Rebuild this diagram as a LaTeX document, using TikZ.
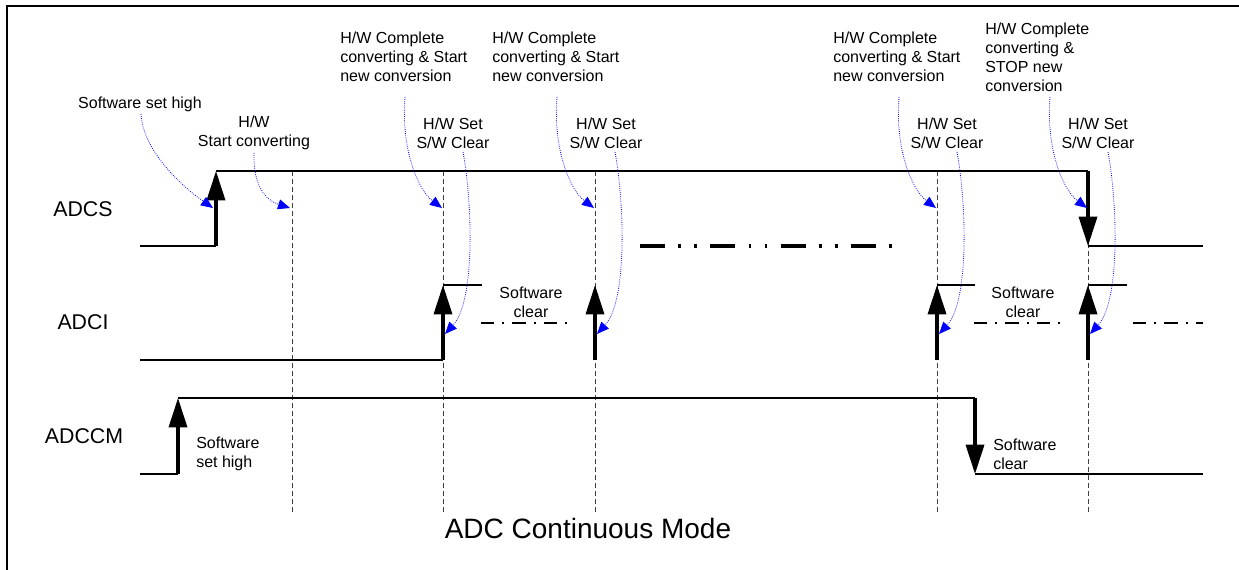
\documentclass[tikz,border=0pt]{standalone}
\usepackage{fontspec}
\setmainfont{Liberation Sans}
\usetikzlibrary{arrows.meta}

\begin{document}
\begin{tikzpicture}[
      x=0.75pt, y=-0.75pt,
      font=\fontsize{12}{14.25}\selectfont,
      wave/.style={line width=1.4pt},
      jump/.style={line width=2.6pt, -{Triangle[length=22pt, width=13.5pt]}},
      vguide/.style={black!75, line width=0.7pt, dash pattern=on 3.5pt off 2.5pt},
      hint/.style={blue, line width=0.6pt, densely dotted,
                   -{Triangle[length=9pt, width=7.5pt]}},
      gapbig/.style={line width=2.4pt, dash pattern=on 18.75pt off 10pt on 2pt off 10pt on 2pt off 10pt},
      gapsmall/.style={line width=1.4pt, dash pattern=on 10pt off 6pt on 1.5pt off 6pt},
      lbl/.style={inner sep=0pt, align=center},
      sig/.style={inner sep=0pt, font=\fontsize{16}{19}\selectfont},
    ]
    \useasboundingbox (0,0) rectangle (1239,570);
    % frame
    \draw[line width=2pt] (7,570) -- (7,6) -- (1239,6);

    % signal names
    \node[sig] (adcs)  at (83,209) {ADCS};
    \node[sig] (adci)  at (83,322) {ADCI};
    \node[sig] (adccm) at (84,436) {ADCCM};

    % time marks
    \foreach \t in {292,443,595,937,1088}
      \draw[vguide] (\t,171) -- (\t,512);

    % ADCS
    \draw[wave] (140,246) -- (216,246);
    \draw[jump] (216,246) -- (216,171);
    \draw[wave] (216,171) -- (1088,171);
    \draw[jump] (1088,171) -- (1088,246);
    \draw[wave] (1088,246) -- (1203,246);
    \draw[gapbig] (640,246) -- (893,246);

    % ADCI
    \draw[wave] (140,360) -- (443,360);
    \foreach \t/\e in {443/482,937/975,1088/1127}
      \draw[wave] (\t,285) -- (\e,285);
    \foreach \t in {443,595,937,1088}
      \draw[jump] (\t,360) -- (\t,285);
    \draw[gapsmall] (481,323) -- (571,323);
    \draw[gapsmall] (974,323) -- (1065,323);
    \draw[gapsmall] (1133,323) -- (1203,323);

    % ADCCM
    \draw[wave] (140,474) -- (178,474);
    \draw[jump] (178,474) -- (178,398);
    \draw[wave] (178,398) -- (975,398);
    \draw[jump] (975,398) -- (975,474);
    \draw[wave] (975,474) -- (1203,474);

    % labels
    \node[lbl] (sethigh) at (140,104) {Software set high};
    \node[lbl] (startcv) at (254,133) {H/W\\Start converting};
    \node[lbl, anchor=west, align=left] (cmp1) at (340,57) {H/W Complete\\converting \& Start\\new conversion};
    \node[lbl, anchor=west, align=left] (cmp2) at (492,57) {H/W Complete\\converting \& Start\\new conversion};
    \node[lbl, anchor=west, align=left] (cmp3) at (833,57) {H/W Complete\\converting \& Start\\new conversion};
    \node[lbl, anchor=west, align=left] (cmp4) at (985,57) {H/W Complete\\converting \&\\STOP new\\conversion};
    \node[lbl] (setclr1) at (453,133) {H/W Set\\S/W Clear};
    \node[lbl] (setclr2) at (606,133) {H/W Set\\S/W Clear};
    \node[lbl] (setclr3) at (947,133) {H/W Set\\S/W Clear};
    \node[lbl] (setclr4) at (1098,133) {H/W Set\\S/W Clear};
    \node[lbl] (swclr1) at (531,302) {Software\\clear};
    \node[lbl] (swclr2) at (1023,302) {Software\\clear};
    \node[lbl, anchor=west, align=left] (cmset) at (196,454) {Software\\set high};
    \node[lbl, anchor=west, align=left] (cmclr) at (993,454) {Software\\clear};
    \node[lbl, font=\fontsize{21}{25}\selectfont] (title) at (588,528) {ADC Continuous Mode};

    % blue hints
    \coordinate (h0) at (141,114);
    \coordinate (h0e) at (213,208);
    \draw[hint] (h0) .. controls (143,150) and (180,185) .. (h0e);
    \coordinate (h1) at (254,153);
    \coordinate (h1e) at (290,208);
    \draw[hint] (h1) .. controls (253,185) and (265,200) .. (h1e);
    \foreach \t in {443,595,937,1088}{
      \coordinate (a) at (\t-38,97);
      \coordinate (ae) at (\t-1,208);
      \draw[hint] (a) .. controls (\t-42,150) and (\t-25,190) .. (ae);
      \coordinate (c) at (\t+20,152);
      \coordinate (ce) at (\t+2,334);
      \draw[hint] (c) .. controls (\t+29,200) and (\t+33,300) .. (ce);
    }
  \end{tikzpicture}
\end{document}
